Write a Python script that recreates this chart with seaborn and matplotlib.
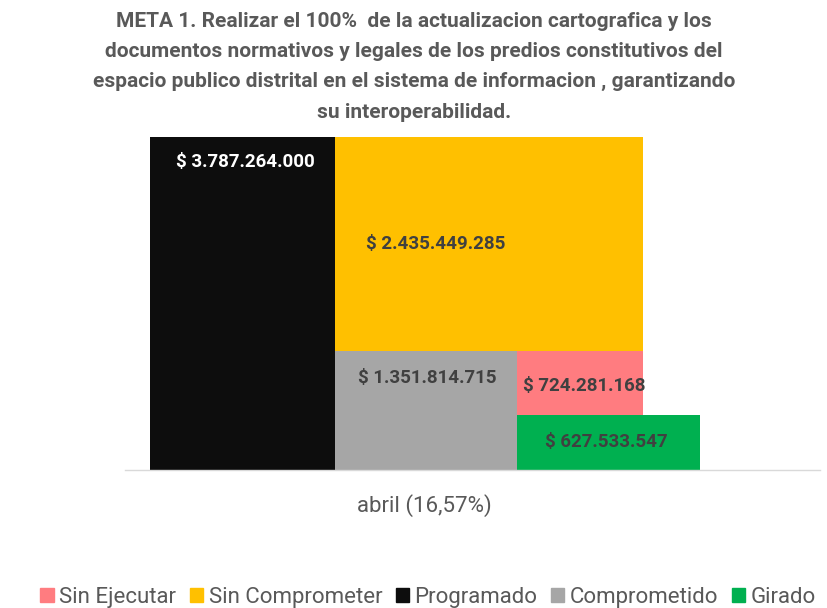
import seaborn as sns
import matplotlib.pyplot as plt
from matplotlib.patches import Patch

# Data
category = "abril (16,57%)"
programado = 3787264000
comprometido = 1351814715
sin_comprometer = 2435449285
girado = 627533547
sin_ejecutar = 724281168

legend_order = ["Sin Ejecutar", "Sin Comprometer", "Programado", "Comprometido", "Girado"]
colors = {"Sin Ejecutar": "#FF7C80", "Sin Comprometer": "#FFC000", "Programado": "#0D0D0D",
          "Comprometido": "#A6A6A6", "Girado": "#00B050"}

sns.set_theme(style="white")
plt.rcParams['font.family'] = ['Roboto', 'DejaVu Sans']

fig = plt.figure(figsize=(8.28, 6.08), dpi=100)
ax = fig.add_axes([0.151, 0.227, 0.839, 0.5477])

# overlapping bar layout (left edge, width) within the category slot
layout = {
    "Programado": (-0.5, 0.336),
    "Sin Comprometer": (-0.164, 0.560),
    "Comprometido": (-0.164, 0.331),
    "Sin Ejecutar": (0.167, 0.229),
    "Girado": (0.167, 0.333),
}
values = {"Programado": programado, "Sin Comprometer": sin_comprometer, "Comprometido": comprometido,
          "Sin Ejecutar": sin_ejecutar, "Girado": girado}
bottoms = {"Programado": 0, "Sin Comprometer": comprometido, "Comprometido": 0,
           "Sin Ejecutar": girado, "Girado": 0}

for name in ["Programado", "Sin Comprometer", "Comprometido", "Sin Ejecutar", "Girado"]:
    left, w = layout[name]
    ax.bar(left, values[name], width=w, bottom=bottoms[name], align="edge",
           color=colors[name], linewidth=0)

def fmt(v):
    return "$ " + f"{v:,}".replace(",", ".")

lab = dict(fontsize=13.5, fontweight="bold", ha="center", va="center")
ax.text(-0.327, programado * 0.925, fmt(programado), color="white", **lab)
ax.text(0.02, comprometido + sin_comprometer / 2, fmt(sin_comprometer), color="#404040", **lab)
ax.text(0.005, comprometido - 0.081 * programado, fmt(comprometido), color="#404040", **lab)
ax.text(0.289, comprometido - 0.105 * programado, fmt(sin_ejecutar), color="#404040", **lab)
ax.text(0.33, girado / 2, fmt(girado), color="#404040", **lab)

ax.set_xlim(-0.545, 0.718)
ax.set_ylim(0, programado)
ax.set_xticks([0])
ax.set_xticklabels([category], fontsize=16, color="#595959")
ax.tick_params(axis="x", length=0, pad=17)
ax.set_yticks([])
for s in ["top", "left", "right"]:
    ax.spines[s].set_visible(False)
ax.spines["bottom"].set_color("#D9D9D9")
ax.spines["bottom"].set_linewidth(1)

fig.suptitle("META 1. Realizar el 100%  de la actualizacion cartografica y los\n"
             "documentos normativos y legales de los predios constitutivos del\n"
             "espacio publico distrital en el sistema de informacion , garantizando\n"
             "su interoperabilidad.",
             y=0.98, fontsize=15, fontweight="bold", color="#595959", linespacing=1.74)

handles = [Patch(color=colors[n]) for n in legend_order]
fig.legend(handles, legend_order, loc="center", bbox_to_anchor=(0.517, 0.018), ncol=5,
           frameon=False, fontsize=16, handlelength=0.6, handleheight=0.6,
           handletextpad=0.25, columnspacing=0.6, labelcolor="#595959")

fig.savefig("out.png", dpi=100)
